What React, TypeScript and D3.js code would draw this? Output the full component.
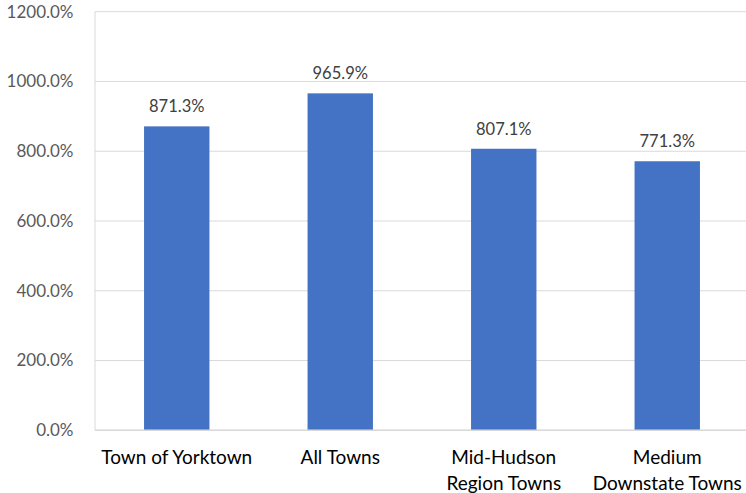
import React from "react";
import * as d3 from "d3";

const categories: string[][] = [
  ["Town of Yorktown"],
  ["All Towns"],
  ["Mid-Hudson", "Region Towns"],
  ["Medium", "Downstate Towns"],
];
const values: number[] = [871.3, 965.9, 807.1, 771.3];
const yTicks: number[] = [0, 200, 400, 600, 800, 1000, 1200];

const W = 746;
const H = 493;
const left = 95;
const right = 749;
const top = 11.7;
const bottom = 430.3;
const FONT = "Lato, 'Open Sans', sans-serif";

export default function App() {
  const x = d3
    .scaleBand<number>()
    .domain(values.map((_, i) => i))
    .range([left, right])
    .paddingInner(0.6)
    .paddingOuter(0.3);
  const y = d3.scaleLinear().domain([0, 1200]).range([bottom, top]);
  const fmt = (v: number) => d3.format(".1f")(v) + "%";

  return (
    <div style={{ position: "absolute", left: 0, top: 0 }}>
      <svg width={W} height={H} style={{ display: "block" }}>
        <rect width={W} height={H} fill="#fff" />
        {yTicks.map((t) => (
          <g key={t}>
            <line x1={left} x2={right} y1={y(t)} y2={y(t)} stroke="#d9d9d9" strokeWidth={1} />
            <text
              x={73.5}
              y={y(t)}
              dy="0.35em"
              textAnchor="end"
              fontFamily={FONT}
              fontSize={17}
              fill="#595959"
            >
              {fmt(t)}
            </text>
          </g>
        ))}
        <line x1={left} x2={left} y1={top} y2={bottom} stroke="#d9d9d9" strokeWidth={1} />
        {values.map((v, i) => (
          <g key={i}>
            <rect
              x={x(i)}
              y={y(v)}
              width={x.bandwidth()}
              height={bottom - y(v)}
              fill="#4472c4"
            />
            <text
              x={(x(i) as number) + x.bandwidth() / 2}
              y={y(v) - 14}
              textAnchor="middle"
              fontFamily={FONT}
              fontSize={16.5}
              fill="#404040"
            >
              {fmt(v)}
            </text>
          </g>
        ))}
        <line x1={left} x2={right} y1={bottom} y2={bottom} stroke="#d9d9d9" strokeWidth={1.5} />
        {categories.map((lines, i) => (
          <text
            key={i}
            x={(x(i) as number) + x.bandwidth() / 2}
            textAnchor="middle"
            fontFamily={FONT}
            fontSize={19}
            fill="#000"
          >
            {lines.map((l, j) => (
              <tspan key={j} x={(x(i) as number) + x.bandwidth() / 2} y={463.5 + j * 26}>
                {l}
              </tspan>
            ))}
          </text>
        ))}
      </svg>
    </div>
  );
}
